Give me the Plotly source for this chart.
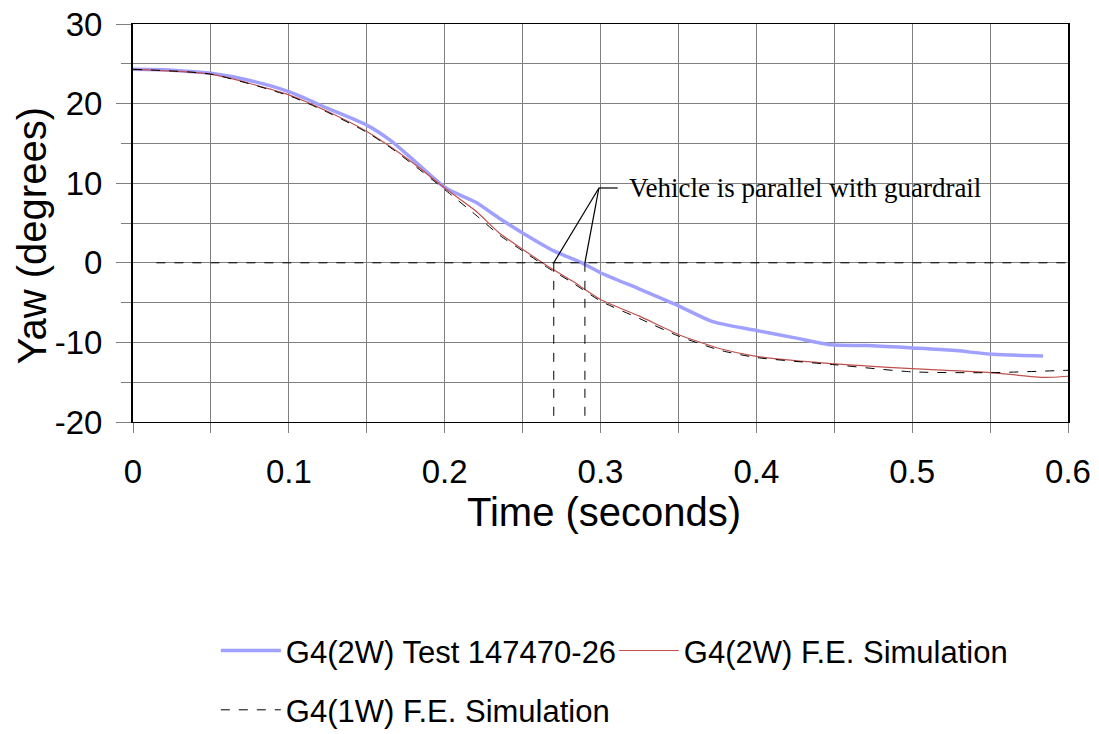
import plotly.graph_objects as go

test_t = [0.0, 0.025, 0.05, 0.075, 0.1, 0.125, 0.15, 0.165, 0.18, 0.2, 0.21, 0.22, 0.235, 0.25,
          0.27, 0.288, 0.3, 0.325, 0.35, 0.372, 0.4, 0.424, 0.448, 0.471, 0.5, 0.526, 0.552, 0.584]
test_yaw = [24.3, 24.2, 23.8, 22.9, 21.5, 19.4, 17.3, 15.4, 12.9, 9.5, 8.5, 7.6, 5.6, 3.75,
            1.5, 0.0, -1.25, -3.3, -5.4, -7.4, -8.5, -9.4, -10.3, -10.4, -10.7, -11.0, -11.5, -11.7]

sim2w_t = [0.0, 0.05, 0.1, 0.125, 0.15, 0.165, 0.18, 0.2, 0.22, 0.235, 0.25, 0.266, 0.282,
           0.3, 0.325, 0.35, 0.377, 0.4, 0.45, 0.5, 0.55, 0.585, 0.6]
sim2w_yaw = [24.3, 23.7, 21.1, 19.0, 16.5, 14.6, 12.5, 9.4, 6.5, 3.75, 1.7, -0.4, -2.3,
             -4.6, -6.7, -9.0, -10.8, -11.75, -12.7, -13.3, -13.8, -14.4, -14.25]

sim1w_t = [0.0, 0.05, 0.1, 0.125, 0.15, 0.165, 0.18, 0.2, 0.22, 0.235, 0.25, 0.266, 0.282,
           0.3, 0.325, 0.35, 0.377, 0.4, 0.45, 0.5, 0.55, 0.6]
sim1w_yaw = [24.3, 23.7, 21.0, 18.9, 16.4, 14.5, 12.3, 9.2, 6.0, 3.5, 1.5, -0.6, -2.5,
             -4.8, -7.0, -9.2, -11.0, -11.9, -12.8, -13.7, -13.8, -13.5]

parallel_t = [0.27, 0.29]          # instants the vehicle is parallel with the rail
label_t, label_yaw = 0.299, 9.4    # leader line apex

x_ticks = [0, 0.1, 0.2, 0.3, 0.4, 0.5, 0.6]
x_labels = ["0", "0.1", "0.2", "0.3", "0.4", "0.5", "0.6"]
y_ticks = [-20, -10, 0, 10, 20, 30]
y_labels = ["-20", "-10", "0", "10", "20", "30"]

FONT = "Liberation Sans, Arial, sans-serif"

fig = go.Figure()
fig.add_trace(go.Scatter(x=test_t, y=test_yaw, mode="lines", name="G4(2W) Test 147470-26",
                         line=dict(color="#A0A0FF", width=3.5, shape="spline", smoothing=0.7),
                         legend="legend"))
fig.add_trace(go.Scatter(x=sim2w_t, y=sim2w_yaw, mode="lines", name="G4(2W) F.E. Simulation",
                         line=dict(color="#C0504D", width=1.2, shape="spline", smoothing=0.6),
                         legend="legend"))
fig.add_trace(go.Scatter(x=sim1w_t, y=sim1w_yaw, mode="lines", name="G4(1W) F.E. Simulation",
                         line=dict(color="black", width=1, dash="dash", shape="spline", smoothing=0.6),
                         legend="legend2"))

# zero reference and the parallel markers
fig.add_shape(type="line", x0=0.015, x1=0.6, y0=0, y1=0,
              line=dict(color="black", width=1, dash="dash"))
for t in parallel_t:
    fig.add_shape(type="line", x0=t, x1=t, y0=0, y1=-20,
                  line=dict(color="black", width=1, dash="dash"))
    fig.add_shape(type="line", x0=label_t, x1=t, y0=label_yaw, y1=0,
                  line=dict(color="black", width=1.2))
fig.add_shape(type="line", x0=label_t, x1=label_t + 0.012, y0=label_yaw, y1=label_yaw,
              line=dict(color="black", width=1.2))
fig.add_annotation(x=label_t + 0.018, y=label_yaw, text="Vehicle is parallel with guardrail",
                   showarrow=False, xanchor="left", yanchor="middle",
                   font=dict(family="Liberation Serif, Times New Roman, serif", size=27, color="black"))

# axis titles placed by hand, as in the original
fig.add_annotation(x=-0.108, y=0.467, xref="paper", yref="paper", text="Yaw (degrees)",
                   textangle=-90, showarrow=False, xanchor="center", yanchor="middle",
                   font=dict(family=FONT, size=40, color="black"))
fig.add_annotation(x=0.504, y=-0.226, xref="paper", yref="paper", text="Time (seconds)",
                   showarrow=False, xanchor="center", yanchor="middle",
                   font=dict(family=FONT, size=40, color="black"))

fig.update_xaxes(range=[0, 0.6], tickvals=x_ticks, ticktext=x_labels, automargin=False,
                 ticklabeloverflow="allow",
                 showgrid=True, gridcolor="#808080", gridwidth=1,
                 minor=dict(dtick=0.05, showgrid=True, gridcolor="#808080", ticks="outside",
                            ticklen=10, tickcolor="#808080"),
                 ticks="outside", ticklen=10, tickcolor="#808080", ticklabelstandoff=10,
                 showline=True, linecolor="black", linewidth=1, mirror=True, zeroline=False,
                 tickfont=dict(family=FONT, size=33, color="black"))
fig.update_yaxes(range=[-20, 30], tickvals=y_ticks, ticktext=y_labels, automargin=False,
                 ticklabeloverflow="allow",
                 showgrid=True, gridcolor="#808080", gridwidth=1,
                 minor=dict(dtick=5, showgrid=True, gridcolor="#808080", ticks="outside",
                            ticklen=10, tickcolor="#808080"),
                 ticks="outside", ticklen=15, tickcolor="#808080", ticklabelstandoff=7,
                 showline=True, linecolor="black", linewidth=2, mirror=True, zeroline=False,
                 tickfont=dict(family=FONT, size=33, color="black"))

# the page body adds an 8px offset, so the margins are trimmed to land the plot area in place
fig.update_layout(
    width=1099, height=734,
    margin=dict(l=125, r=39, t=16, b=320, autoexpand=False),
    plot_bgcolor="white", paper_bgcolor="white",
    legend=dict(orientation="h", x=0.0886, y=-0.575, xanchor="left", yanchor="middle",
                itemwidth=60, entrywidth=323, font=dict(family=FONT, size=31, color="black"),
                bgcolor="rgba(0,0,0,0)"),
    legend2=dict(orientation="h", x=0.0886, y=-0.724, xanchor="left", yanchor="middle",
                 itemwidth=60, font=dict(family=FONT, size=31, color="black"),
                 bgcolor="rgba(0,0,0,0)"),
)

fig.write_html("out.html")
